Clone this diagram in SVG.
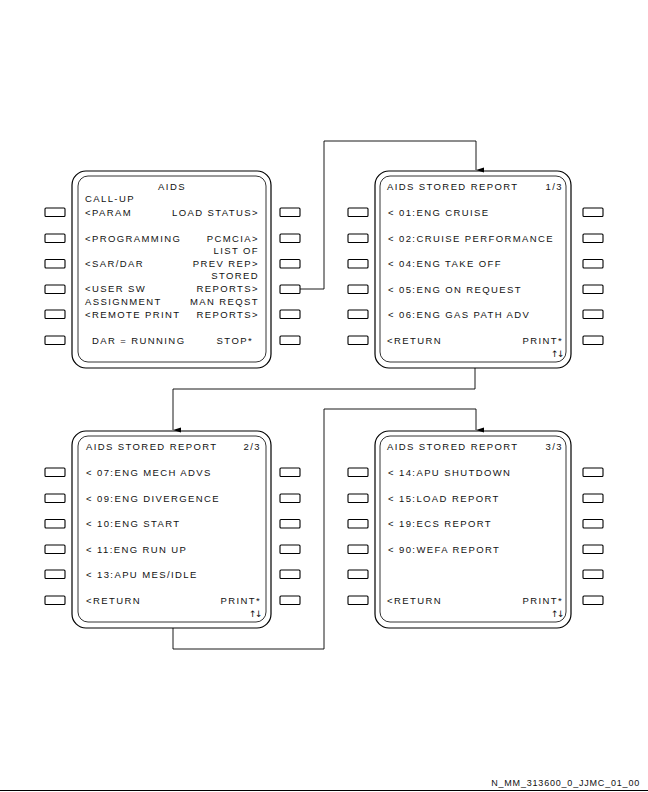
<svg xmlns="http://www.w3.org/2000/svg" width="648" height="792" viewBox="0 0 648 792">
  <style>
    .frame { fill: none; stroke: #000; stroke-width: 1.2; }
    .inner { fill: none; stroke: #000; stroke-width: 0.8; }
    .key { fill: #fff; stroke: #000; stroke-width: 1.1; }
    .wire { fill: none; stroke: #000; stroke-width: 0.9; }
    text { font-family: "Liberation Sans", Arial, sans-serif; font-size: 9.5px; letter-spacing: 1.4px; fill: #111; }
    .r { text-anchor: end; }
    .c { text-anchor: middle; }
    .scroll { font-family: "DejaVu Sans", sans-serif; font-size: 9px; letter-spacing: -1.5px; }
    .ref { font-size: 9px; letter-spacing: 0.8px; }
  </style>
  <defs>
    <!-- line select keys, one column of six -->
    <g id="keys">
      <rect class="key" x="0" y="0" width="20" height="8.5" rx="1"/>
      <rect class="key" x="0" y="26" width="20" height="8.5" rx="1"/>
      <rect class="key" x="0" y="51.5" width="20" height="8.5" rx="1"/>
      <rect class="key" x="0" y="77" width="20" height="8.5" rx="1"/>
      <rect class="key" x="0" y="102" width="20" height="8.5" rx="1"/>
      <rect class="key" x="0" y="128" width="20" height="8.5" rx="1"/>
    </g>
    <marker id="arrow" markerWidth="6" markerHeight="9" refX="3" refY="8" orient="auto-start-reverse" markerUnits="userSpaceOnUse" viewBox="0 0 6 9">
      <path d="M0.5,0 L5.5,0 L3,8 Z" fill="#000"/>
    </marker>
  </defs>

  <!-- MCDU page: AIDS main menu -->
  <g id="aids-menu">
    <rect class="frame" x="72" y="171" width="199" height="197" rx="14"/>
    <rect class="inner" x="78" y="176" width="188" height="186" rx="10"/>
    <use href="#keys" x="45" y="208"/>
    <use href="#keys" x="280" y="208"/>
    <text class="c" x="172" y="190">AIDS</text>
    <text x="85" y="202">CALL-UP</text>
    <text x="85" y="215.5">&lt;PARAM</text>
    <text class="r" x="259" y="215.5">LOAD STATUS&gt;</text>
    <text x="85" y="241.5">&lt;PROGRAMMING</text>
    <text class="r" x="259" y="241.5">PCMCIA&gt;</text>
    <text class="r" x="259" y="254">LIST OF</text>
    <text x="85" y="267">&lt;SAR/DAR</text>
    <text class="r" x="259" y="267">PREV REP&gt;</text>
    <text class="r" x="259" y="279">STORED</text>
    <text x="85" y="292">&lt;USER SW</text>
    <text class="r" x="259" y="292">REPORTS&gt;</text>
    <text x="85" y="304.5">ASSIGNMENT</text>
    <text class="r" x="259" y="304.5">MAN REQST</text>
    <text x="85" y="317.5">&lt;REMOTE PRINT</text>
    <text class="r" x="259" y="317.5">REPORTS&gt;</text>
    <text x="92" y="343.5">DAR = RUNNING</text>
    <text class="r" x="253" y="343.5">STOP*</text>
  </g>

  <!-- MCDU page: stored reports 1/3 -->
  <g id="stored-report-1">
    <rect class="frame" x="375" y="171" width="196" height="197" rx="14"/>
    <rect class="inner" x="380" y="176" width="186" height="186" rx="10"/>
    <use href="#keys" x="348" y="208"/>
    <use href="#keys" x="583" y="208"/>
    <text x="387" y="190">AIDS STORED REPORT</text>
    <text class="r" x="563" y="190">1/3</text>
    <text x="388" y="215.5">&lt; 01:ENG CRUISE</text>
    <text x="388" y="241.5">&lt; 02:CRUISE PERFORMANCE</text>
    <text x="388" y="267">&lt; 04:ENG TAKE OFF</text>
    <text x="388" y="292.5">&lt; 05:ENG ON REQUEST</text>
    <text x="388" y="318">&lt; 06:ENG GAS PATH ADV</text>
    <text x="387" y="343.5">&lt;RETURN</text>
    <text class="r" x="563" y="343.5">PRINT*</text>
    <text class="r scroll" x="563" y="356.5">↑↓</text>
  </g>

  <!-- MCDU page: stored reports 2/3 -->
  <g id="stored-report-2">
    <rect class="frame" x="72" y="431" width="199" height="197" rx="14"/>
    <rect class="inner" x="78" y="436" width="188" height="186" rx="10"/>
    <use href="#keys" x="45" y="468"/>
    <use href="#keys" x="280" y="468"/>
    <text x="86" y="450">AIDS STORED REPORT</text>
    <text class="r" x="261" y="450">2/3</text>
    <text x="86" y="475.5">&lt; 07:ENG MECH ADVS</text>
    <text x="86" y="501.5">&lt; 09:ENG DIVERGENCE</text>
    <text x="86" y="527">&lt; 10:ENG START</text>
    <text x="86" y="552.5">&lt; 11:ENG RUN UP</text>
    <text x="86" y="578">&lt; 13:APU MES/IDLE</text>
    <text x="86" y="603.5">&lt;RETURN</text>
    <text class="r" x="261" y="603.5">PRINT*</text>
    <text class="r scroll" x="261" y="616.5">↑↓</text>
  </g>

  <!-- MCDU page: stored reports 3/3 -->
  <g id="stored-report-3">
    <rect class="frame" x="375" y="431" width="196" height="197" rx="14"/>
    <rect class="inner" x="380" y="436" width="186" height="186" rx="10"/>
    <use href="#keys" x="348" y="468"/>
    <use href="#keys" x="583" y="468"/>
    <text x="387" y="450">AIDS STORED REPORT</text>
    <text class="r" x="563" y="450">3/3</text>
    <text x="388" y="475.5">&lt; 14:APU SHUTDOWN</text>
    <text x="388" y="501.5">&lt; 15:LOAD REPORT</text>
    <text x="388" y="527">&lt; 19:ECS REPORT</text>
    <text x="388" y="552.5">&lt; 90:WEFA REPORT</text>
    <text x="387" y="603.5">&lt;RETURN</text>
    <text class="r" x="563" y="603.5">PRINT*</text>
    <text class="r scroll" x="563" y="616.5">↑↓</text>
  </g>

  <!-- page navigation links -->
  <g id="connectors">
    <path class="wire" d="M300,289 H324 V141 H476 V170" marker-end="url(#arrow)"/>
    <path class="wire" d="M475,368 V389 H173 V430" marker-end="url(#arrow)"/>
    <path class="wire" d="M173,628 V649 H324 V409 H476 V430" marker-end="url(#arrow)"/>
  </g>

  <!-- sheet reference -->
  <text class="ref r" x="640" y="786">N_MM_313600_0_JJMC_01_00</text>
  <line x1="0" y1="790.5" x2="648" y2="790.5" stroke="#000" stroke-width="1"/>
</svg>
